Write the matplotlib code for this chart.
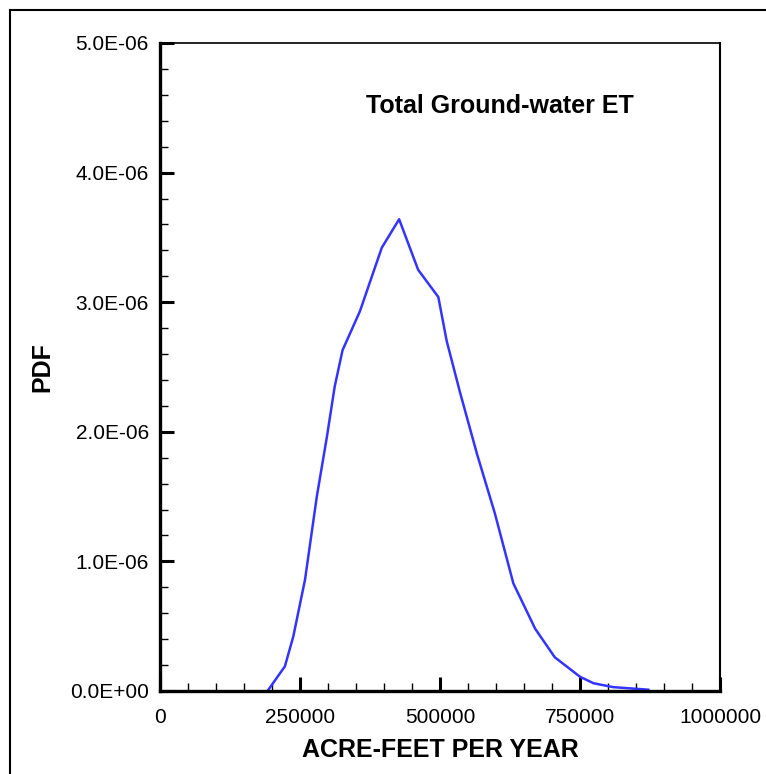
import matplotlib.pyplot as plt
import matplotlib as mpl
from matplotlib.lines import Line2D

# data
acre_feet = [192e3, 223e3, 238e3, 259e3, 280e3, 298e3, 312e3, 326e3, 357e3, 396e3,
             427e3, 461e3, 497e3, 512e3, 536e3, 566e3, 598e3, 631e3, 670e3, 705e3,
             750e3, 774e3, 809e3, 872e3]
pdf = [0.0, 0.19, 0.42, 0.86, 1.50, 1.96, 2.35, 2.63, 2.93, 3.42,
       3.64, 3.25, 3.04, 2.70, 2.30, 1.83, 1.37, 0.83, 0.48, 0.26,
       0.11, 0.06, 0.03, 0.01]
pdf = [v * 1e-6 for v in pdf]

x_ticks = [0, 250000, 500000, 750000, 1000000]
x_labels = ['0', '250000', '500000', '750000', '1000000']
y_ticks = [0, 1e-6, 2e-6, 3e-6, 4e-6, 5e-6]
y_labels = ['0.0E+00', '1.0E-06', '2.0E-06', '3.0E-06', '4.0E-06', '5.0E-06']

plt.rcParams['font.family'] = ['Liberation Sans', 'DejaVu Sans']

fig = plt.figure(figsize=(7.66, 7.74), dpi=100)
ax = fig.add_axes([160 / 766, 83 / 774, 560 / 766, 648 / 774])

ax.plot(acre_feet, pdf, color='#3434ff', linewidth=1.8)

ax.set_xlim(0, 1000000)
ax.set_ylim(0, 5e-6)

ax.set_xticks(x_ticks)
ax.set_xticklabels(x_labels, fontsize=15)
ax.set_yticks(y_ticks)
ax.set_yticklabels(y_labels, fontsize=15)
ax.xaxis.set_minor_locator(mpl.ticker.MultipleLocator(50000))
ax.yaxis.set_minor_locator(mpl.ticker.MultipleLocator(0.2e-6))

ax.tick_params(which='major', direction='in', length=10, width=2.2, pad=8)
ax.tick_params(which='minor', direction='in', length=6, width=1.0)
ax.tick_params(axis='x', which='major', pad=12)

ax.spines['left'].set_linewidth(2.4)
ax.spines['bottom'].set_linewidth(2.4)
ax.spines['top'].set_linewidth(1.2)
ax.spines['right'].set_linewidth(1.5)

ax.set_xlabel('ACRE-FEET PER YEAR', fontsize=18, fontweight='bold', labelpad=8)
ax.set_ylabel('PDF', fontsize=18, fontweight='bold', labelpad=11)

ax.text(366, 774 - 106, 'Total Ground-water ET', transform=None,
        fontsize=18, fontweight='bold', va='center', ha='left')

# outer frame
fig.add_artist(Line2D([10 / 766, 1.0], [1 - 10 / 774, 1 - 10 / 774],
                      transform=fig.transFigure, color='black', linewidth=1.5))
fig.add_artist(Line2D([10 / 766, 10 / 766], [0, 1 - 10 / 774],
                      transform=fig.transFigure, color='black', linewidth=1.5))

fig.savefig('out.png', dpi=100)
